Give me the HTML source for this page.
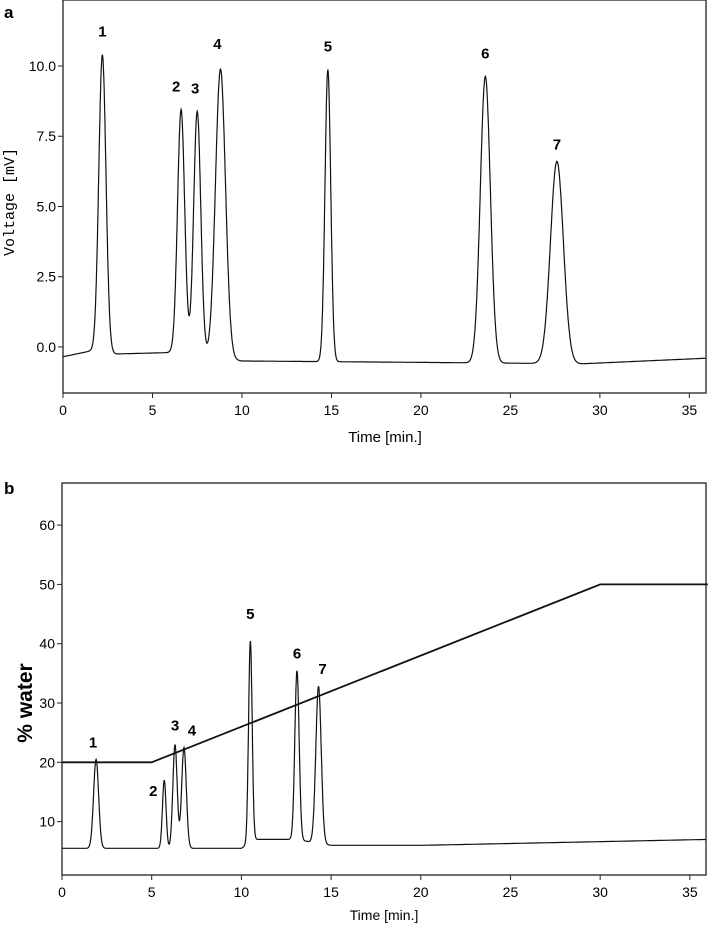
<!DOCTYPE html>
<html><head><meta charset="utf-8"><style>
body{margin:0;background:#fff}
svg{display:block}
text{font-family:"Liberation Sans",sans-serif;fill:#000}
</style></head><body>
<svg id="fig" width="708" height="929" viewBox="0 0 708 929"></svg>
<script>
// Panel a data
const aPeakTimes=[2.2,6.6,7.5,8.8,14.8,23.6,27.6];
const aPeakHeights=[10.6,8.7,8.7,10.3,10.4,10.2,7.2];
const aPeakWidths=[0.2,0.2,0.2,0.28,0.16,0.28,0.36];
const aPeakLabels=["1","2","3","4","5","6","7"];
const aBaseTimes=[0,1.5,3,6,10,20,29,36];
const aBaseValues=[-0.35,-0.15,-0.25,-0.2,-0.5,-0.55,-0.6,-0.4];
const aYTicks=["0.0","2.5","5.0","7.5","10.0"];
const xTicks=["0","5","10","15","20","25","30","35"];
// Panel b data
const bPeakTimes=[1.9,5.7,6.3,6.8,10.5,13.1,14.3];
const bPeakHeights=[15,11.5,17.5,17,34,28.5,26.5];
const bPeakWidths=[0.14,0.1,0.12,0.13,0.1,0.12,0.15];
const bPeakLabels=["1","2","3","4","5","6","7"];
const bBaseTimes=[0,5,10,10.8,13,15,20,28,36];
const bBaseValues=[5.5,5.5,5.5,7,7,6,6,6.5,7];
const bYTicks=["10","20","30","40","50","60"];
const gradTimes=[0,5,30,36];
const gradValues=[20,20,50,50];

const NS="http://www.w3.org/2000/svg";
const svg=document.getElementById('fig');
function mk(tag,attrs,parent){const e=document.createElementNS(NS,tag);for(const k in attrs)e.setAttribute(k,attrs[k]);(parent||svg).appendChild(e);return e;}
function interp(ts,vs,t){for(let i=0;i<ts.length-1;i++){if(t<=ts[i+1]){const f=(t-ts[i])/(ts[i+1]-ts[i]);return vs[i]+f*(vs[i+1]-vs[i]);}}return vs[vs.length-1];}
function trace(pt,ph,pw,bt,bv,t){let v=interp(bt,bv,t);for(let i=0;i<pt.length;i++){const d=(t-pt[i])/pw[i];v+=ph[i]*Math.exp(-0.5*d*d);}return v;}

function panel(cfg){
  const {L,T,R,B,xmin,xmax,ymin,ymax}=cfg;
  const X=t=>L+(t-xmin)/(xmax-xmin)*(R-L);
  const Y=v=>B-(v-ymin)/(ymax-ymin)*(B-T);
  const g=mk('g',{});
  
  
  const frame=mk('rect',{x:L,y:T,width:R-L,height:B-T,fill:'none',stroke:'#222','stroke-width':1.3},g);
  
  
  xTicks.forEach(s=>{const v=+s;const x=X(v);
    mk('line',{x1:x,x2:x,y1:B,y2:B+5,stroke:'#222'},g);
    const t=mk('text',{x:x,y:B+22,'text-anchor':'middle','font-size':cfg.tickFs},g);t.textContent=s;
    
    });
  cfg.yTicks.forEach(s=>{const v=+s;const y=Y(v);
    mk('line',{x1:L-5,x2:L,y1:y,y2:y,stroke:'#222'},g);
    const t=mk('text',{x:L-7,y:y+5,'text-anchor':'end','font-size':cfg.tickFs},g);t.textContent=s;
    
    });
  let d='';
  for(let t=xmin;t<=xmax+1e-9;t+=0.02){const v=trace(cfg.pt,cfg.ph,cfg.pw,cfg.bt,cfg.bv,t);d+=(d?'L':'M')+X(t).toFixed(1)+','+Y(v).toFixed(1);}
  const p=mk('path',{d:d,fill:'none',stroke:'#111','stroke-width':1.2},g);
  
  
  cfg.pt.forEach((t,i)=>{const v=trace(cfg.pt,cfg.ph,cfg.pw,cfg.bt,cfg.bv,t);
    const lx=X(t)+(cfg.labDx?cfg.labDx[i]:0),ly=Y(v)-(cfg.labDy?cfg.labDy[i]:12);
    const e=mk('text',{x:lx,y:ly,'text-anchor':'middle','font-size':15,'font-weight':'bold'},g);e.textContent=cfg.labels[i];
    
    });
  return {X,Y,g};
}

const a=panel({name:'panel-a',L:63,T:0,R:706,B:393,xmin:0,xmax:35.93,ymin:-1.64,ymax:12.35,
  yTicks:aYTicks,tickFs:14,pt:aPeakTimes,ph:aPeakHeights,pw:aPeakWidths,bt:aBaseTimes,bv:aBaseValues,labels:aPeakLabels,
  labDx:[0,-5,-2,-3,0,0,0],labDy:[18,18,18,20,18,18,12]});
const b=panel({name:'panel-b',L:62,T:483,R:706,B:875,xmin:0,xmax:35.9,ymin:1,ymax:67.1,
  yTicks:bYTicks,tickFs:14,pt:bPeakTimes,ph:bPeakHeights,pw:bPeakWidths,bt:bBaseTimes,bv:bBaseValues,labels:bPeakLabels,
  labDx:[-3,-11,0,8,0,0,4],labDy:[12,-16,14,12,22,12,12]});
let gd='';
gradTimes.forEach((t,i)=>{gd+=(i?'L':'M')+b.X(t).toFixed(1)+','+b.Y(gradValues[i]).toFixed(1);});
const gp=mk('path',{d:gd,fill:'none',stroke:'#111','stroke-width':1.8});



function txt(s,attrs,name){const e=mk('text',attrs);e.textContent=s;
  
  return e;}
txt('a',{x:4,y:18,'font-size':17,'font-weight':'bold'},'panel-a-letter');
txt('b',{x:4,y:494,'font-size':17,'font-weight':'bold'},'panel-b-letter');
txt('Time [min.]',{x:385,y:442,'text-anchor':'middle','font-size':15},'x-axis-title-a');
txt('Time [min.]',{x:384,y:920,'text-anchor':'middle','font-size':14},'x-axis-title-b');
txt('Voltage [mV]',{x:0,y:0,'text-anchor':'middle','font-size':15,transform:'translate(14,202) rotate(-90)',style:'font-family:"Liberation Mono",monospace'},'y-axis-title-a');
txt('% water',{x:0,y:0,'text-anchor':'middle','font-size':21,'font-weight':'bold',transform:'translate(32,703) rotate(-90)'},'y-axis-title-b');
</script>
</body></html>
